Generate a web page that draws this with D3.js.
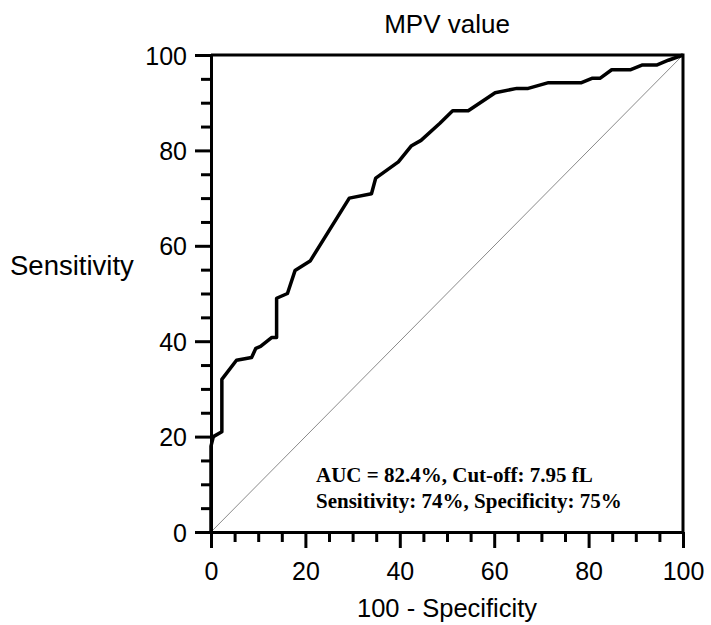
<!DOCTYPE html>
<html>
<head>
<meta charset="utf-8">
<script src="https://cdn.jsdelivr.net/npm/d3@7"></script>
<style>
  body { margin: 0; background: #fff; }
  svg { display: block; }
</style>
</head>
<body>
<svg id="chart" width="711" height="625"></svg>
<script>
// Datos de la curva ROC (100 - especificidad, sensibilidad)
var fpr = [0, 0, 0.5, 2.3, 2.3, 5.4, 8.6, 9.5, 10.5, 12.9, 13.9, 13.9, 16.2, 17.8, 21, 29.3, 34, 34.9, 39.7, 42.4, 44.5, 48.5, 51.2, 54.5, 60.2, 64.8, 67.2, 71.5, 78.5, 80.7, 82.4, 84.9, 88.8, 91.3, 94.4, 96.9, 100];
var tpr = [0, 18, 20, 21, 32, 36, 36.6, 38.5, 38.9, 40.8, 40.8, 49, 50, 54.8, 56.8, 70, 70.9, 74.2, 77.6, 80.9, 82.1, 85.7, 88.3, 88.3, 92.1, 93, 93, 94.2, 94.2, 95.1, 95.1, 96.9, 96.9, 97.9, 97.9, 98.9, 100];

var majorTicks = [0, 20, 40, 60, 80, 100];
var minorTicks = d3.range(0, 101, 5).filter(function(v) { return v % 20 !== 0; });

var chartTitle = "MPV value";
var xTitle = "100 - Specificity";
var yTitle = "Sensitivity";
var notes = ["AUC = 82.4%, Cut-off: 7.95 fL", "Sensitivity: 74%, Specificity: 75%"];

var svg = d3.select("#chart");
var mLeft = 211, mRight = 683, mTop = 55, mBottom = 532;

var x = d3.scaleLinear().domain([0, 100]).range([mLeft, mRight]);
var y = d3.scaleLinear().domain([0, 100]).range([mBottom, mTop]);

var sans = "Arial, 'Liberation Sans', sans-serif";

// Línea diagonal de referencia
svg.append("line")
    .attr("x1", x(0)).attr("y1", y(0))
    .attr("x2", x(100)).attr("y2", y(100))
    .attr("stroke", "#8a8a8a")
    .attr("stroke-width", 1);

// Marco superior y derecho
svg.append("path")
    .attr("d", "M" + x(0) + "," + y(100) + "H" + x(100) + "V" + y(0))
    .attr("fill", "none")
    .attr("stroke", "#000")
    .attr("stroke-width", 3);

// Ejes con marcas menores
function styleAxis(g) {
    g.select(".domain").attr("stroke-width", 3);
    g.selectAll(".tick line").attr("stroke-width", 3);
    g.selectAll("text").attr("font-family", sans).attr("font-size", 25).attr("fill", "#000");
}

var yAxis = svg.append("g")
    .attr("transform", "translate(" + mLeft + ",0)")
    .call(d3.axisLeft(y).tickValues(majorTicks).tickSize(16).tickSizeOuter(0).tickPadding(8));
styleAxis(yAxis);
yAxis.selectAll("text").attr("dy", "0.36em");

svg.append("g")
    .attr("transform", "translate(" + mLeft + ",0)")
    .call(d3.axisLeft(y).tickValues(minorTicks).tickSize(10).tickFormat(""))
    .call(function(g) { g.select(".domain").remove(); g.selectAll("line").attr("stroke-width", 3); });

var xAxis = svg.append("g")
    .attr("transform", "translate(0," + mBottom + ")")
    .call(d3.axisBottom(x).tickValues(majorTicks).tickSize(16).tickSizeOuter(0).tickPadding(14));
styleAxis(xAxis);

svg.append("g")
    .attr("transform", "translate(0," + mBottom + ")")
    .call(d3.axisBottom(x).tickValues(minorTicks).tickSize(10).tickFormat(""))
    .call(function(g) { g.select(".domain").remove(); g.selectAll("line").attr("stroke-width", 3); });

// Curva ROC
var line = d3.line()
    .x(function(d, i) { return x(fpr[i]); })
    .y(function(d, i) { return y(tpr[i]); });

svg.append("path")
    .datum(fpr)
    .attr("d", line)
    .attr("fill", "none")
    .attr("stroke", "#000")
    .attr("stroke-width", 3.5)
    .attr("stroke-linejoin", "round");

// Títulos
svg.append("text")
    .attr("x", (mLeft + mRight) / 2).attr("y", 33)
    .attr("text-anchor", "middle")
    .attr("font-family", sans).attr("font-size", 26)
    .text(chartTitle);

svg.append("text")
    .attr("x", (mLeft + mRight) / 2).attr("y", 617)
    .attr("text-anchor", "middle")
    .attr("font-family", sans).attr("font-size", 25.5)
    .text(xTitle);

svg.append("text")
    .attr("x", 10).attr("y", 275)
    .attr("font-family", sans).attr("font-size", 27.5)
    .text(yTitle);

// Anotación
svg.selectAll(".note")
    .data(notes)
    .enter().append("text")
    .attr("class", "note")
    .attr("x", 316)
    .attr("y", function(d, i) { return 482 + i * 26; })
    .attr("font-family", "'Times New Roman', 'Liberation Serif', serif")
    .attr("font-weight", "bold")
    .attr("font-size", 21)
    .text(function(d) { return d; });
</script>
</body>
</html>
